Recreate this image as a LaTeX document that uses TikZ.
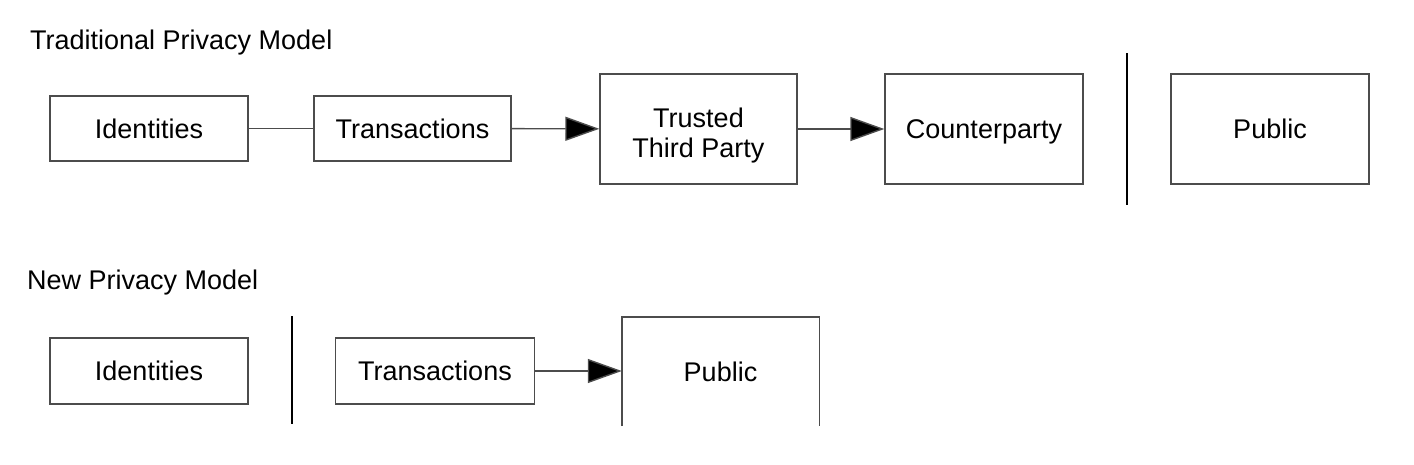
\documentclass[tikz,border=0pt]{standalone}
\usepackage{fontspec}
\setmainfont{Liberation Sans}
\usetikzlibrary{arrows.meta}
\begin{document}
\begin{tikzpicture}[x=1pt,y=-1pt,
  font=\fontsize{27}{30}\selectfont,
  box/.style={draw=black!70,line width=1.4pt,rectangle,inner sep=0pt,align=center},
  one/.style={text height=19.5pt,text depth=0pt},
  conn/.style={draw=black!70,line width=1.4pt},
  arr/.style={conn,-{Triangle[length=34pt,width=24pt,fill=black]}},
  sep/.style={draw=black,line width=1.6pt},
  title/.style={anchor=base west,inner sep=0pt}]
\useasboundingbox (0,0) rectangle (1414,464);
\node[title] (t1) at (30,49) {Traditional Privacy Model};
\node[title] (t2) at (27,289) {New Privacy Model};
% top row
\node[box,one,minimum width=198pt,minimum height=65pt] (id1) at (149,128.5) {Identities};
\node[box,one,minimum width=197pt,minimum height=65pt] (tr1) at (412.5,128.5) {Transactions};
\node[box,text height=56pt,text depth=0pt,minimum width=197pt,minimum height=110pt] (ttp) at (698.5,129) {Trusted\\Third Party};
\node[box,one,minimum width=198pt,minimum height=110pt] (cp) at (984,129) {Counterparty};
\node[box,one,minimum width=198pt,minimum height=110pt] (pub1) at (1270,129) {Public};
\coordinate (s1a) at (1127,53);
\coordinate (s1b) at (1127,205);
\draw[sep] (s1a) -- (s1b);
\draw[conn] (id1) -- (tr1);
\draw[arr] (tr1) -- (ttp);
\draw[arr] (ttp) -- (cp);
% bottom row
\node[box,one,minimum width=198pt,minimum height=66pt] (id2) at (149,371) {Identities};
\node[box,one,minimum width=199pt,minimum height=66pt] (tr2) at (435,371) {Transactions};
\node[rectangle,one,inner sep=0pt,minimum width=197pt,minimum height=109pt] (pub2) at (720.5,371.5) {Public};
\draw[conn] (pub2.south west) -- (pub2.north west) -- (pub2.north east) -- (pub2.south east);
\coordinate (s2a) at (292,316);
\coordinate (s2b) at (292,424);
\draw[sep] (s2a) -- (s2b);
\draw[arr] (tr2) -- (tr2.east -| pub2.west);
\end{tikzpicture}
\end{document}
